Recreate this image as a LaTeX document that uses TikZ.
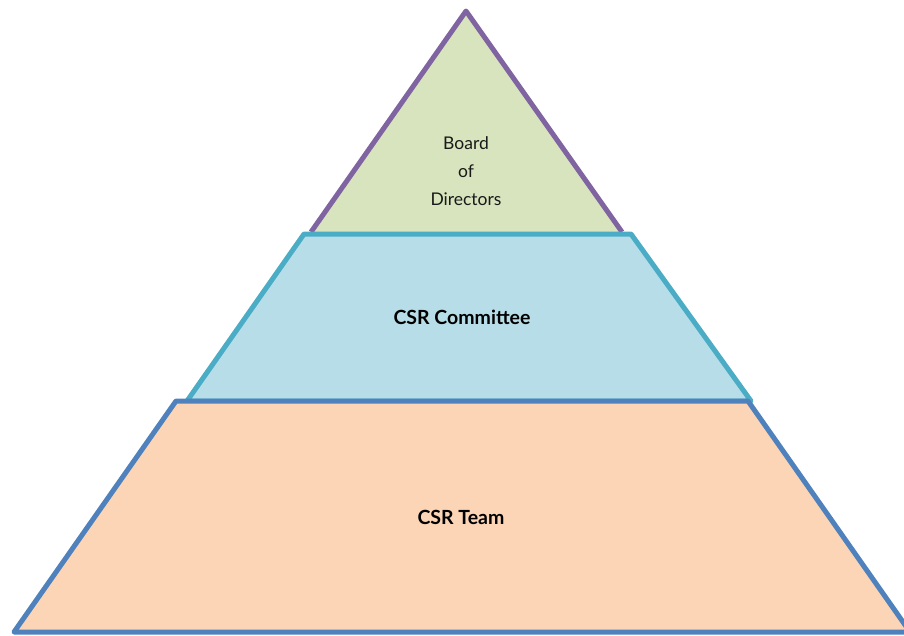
\documentclass[tikz,border=0pt]{standalone}
\usepackage{fontspec}
\setmainfont{Lato}
\definecolor{topfill}{HTML}{D7E4BD}
\definecolor{topline}{HTML}{8064A2}
\definecolor{midfill}{HTML}{B7DEE8}
\definecolor{midline}{HTML}{4BACC6}
\definecolor{botfill}{HTML}{FBD5B5}
\definecolor{botline}{HTML}{4F81BD}
\begin{document}
\begin{tikzpicture}[x=1pt,y=-1pt,
  tier/.style={line width=5pt,line join=round},
  lbl/.style={font=\fontsize{17.5}{28}\selectfont,align=center,text=black!90},
  blbl/.style={font=\fontsize{19.5}{23}\selectfont\bfseries,text=black}]
\useasboundingbox (0,0) rectangle (904,635);
\begin{scope}
\clip (0,0) rectangle (904,635);
\fill[topfill] (466,11) -- (311,232) -- (622,232) -- cycle;
\draw[tier,topline] (311,232) -- (466,11) -- (622,232);
\draw[tier,midline,fill=midfill] (304,234) -- (631,234) -- (751,401) -- (187,401) -- cycle;
\draw[tier,botline,fill=botfill] (176,401) -- (748,401) -- (910,632) -- (14,632) -- cycle;
\end{scope}
\node[lbl] (board) at (466,171) {Board\\of\\Directors};
\node[blbl] (committee) at (462,317) {CSR Committee};
\node[blbl] (team) at (461,517) {CSR Team};
\end{tikzpicture}
\end{document}
